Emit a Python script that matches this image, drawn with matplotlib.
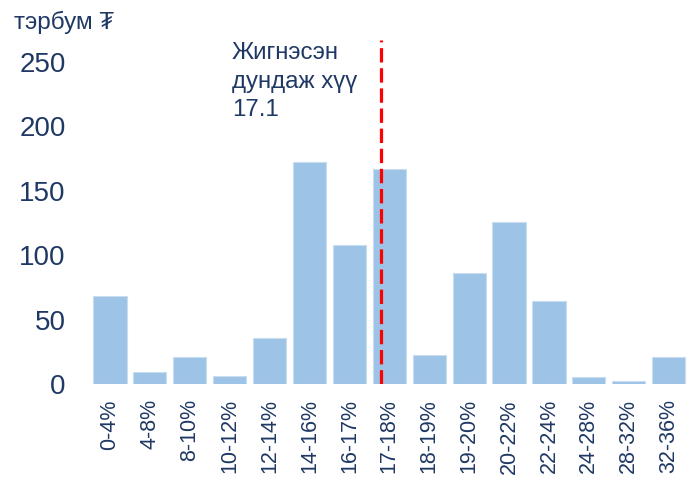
import matplotlib
matplotlib.use("Agg")
import matplotlib.pyplot as plt

# ангилал ба утга (тэрбум ₮)
angilal = ["0-4%", "4-8%", "8-10%", "10-12%", "12-14%", "14-16%", "16-17%", "17-18%",
           "18-19%", "19-20%", "20-22%", "22-24%", "24-28%", "28-32%", "32-36%"]
utga = [68, 9, 21, 6, 36, 172, 108, 167, 22.5, 86, 126, 64, 5, 2.5, 21]
dundaj_pos = 6.8   # 17.1 хүүгийн байрлал
y_ticks = [0, 50, 100, 150, 200, 250]

navy = "#1F3864"
fam = ["Liberation Sans", "DejaVu Sans"]
plt.rcParams["font.family"] = fam

fig = plt.figure(figsize=(6.93, 4.86), dpi=100)
ax = fig.add_axes([0.127, 0.21, 0.869, 0.708])

x = list(range(len(angilal)))
ax.bar(x, utga, width=0.83, color="#9DC3E6", edgecolor="#C9DDF0", linewidth=0.8)
ax.axvline(dundaj_pos, color="#FF0000", linestyle=(0, (4.5, 1.8)), linewidth=2.3)

ax.set_xlim(-0.55, 14.54)
ax.set_ylim(0, 267)
ax.set_yticks(y_ticks)
ax.set_xticks(x)
ax.set_xticklabels(angilal, rotation=90, fontsize=15.5, color=navy)
ax.tick_params(axis="y", labelsize=20, labelcolor=navy, length=0, pad=16)
ax.tick_params(axis="x", length=0, pad=11)
for s in ax.spines.values():
    s.set_visible(False)

fig.text(0.02, 0.953, "тэрбум ₮", fontsize=17.5, color=navy, va="center", ha="left")
ax.text(3.05, 265, "Жигнэсэн\nдундаж хүү\n17.1", fontsize=17.3, color=navy,
        va="top", ha="left", linespacing=1.38)

fig.savefig("out.png", dpi=100)
